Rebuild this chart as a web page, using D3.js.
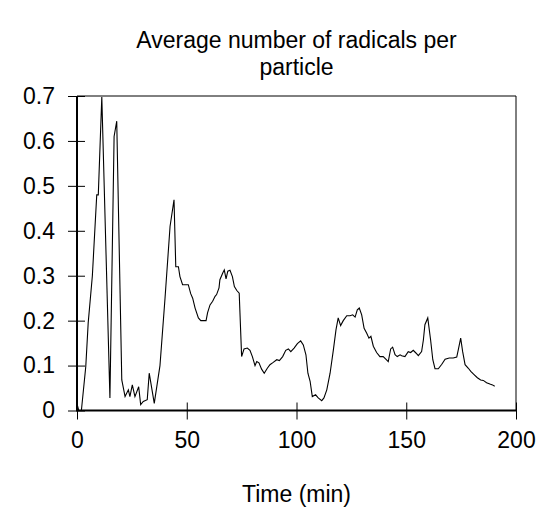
<!DOCTYPE html>
<html>
<head>
<meta charset="utf-8">
<script src="https://cdn.jsdelivr.net/npm/d3@7"></script>
<style>
  html, body { margin: 0; padding: 0; background: #fff; }
  svg { display: block; font-family: "Liberation Sans", Arial, sans-serif; }
</style>
</head>
<body>
<svg id="chart" width="547" height="512"></svg>
<script>
const titleLines = ["Average number of radicals per", "particle"];
const xLabel = "Time (min)";
const xTicks = [0, 50, 100, 150, 200];
const yTicks = [0, 0.1, 0.2, 0.3, 0.4, 0.5, 0.6, 0.7];
const timeMin = [0.1,0.8,2.0,4.0,5.1,7.0,9.0,9.7,11.3,15.0,16.9,18.1,20.4,21.9,23.4,24.1,25.2,26.4,28.1,29.0,30.2,32.0,32.9,35.2,37.8,40.1,42.4,44.2,45.0,46.2,46.9,48.1,50.7,51.8,52.7,53.8,55.3,56.4,58.8,59.5,60.6,61.8,62.9,63.6,64.7,65.1,66.4,67.1,67.9,68.7,69.7,70.8,71.7,72.8,73.9,75.0,76.1,77.6,78.8,79.9,81.1,81.9,82.9,84.1,85.3,86.7,87.9,89.4,91.0,92.2,93.7,95.1,96.3,97.4,98.9,100.4,101.9,103.1,104.3,105.2,106.2,107.2,108.7,109.9,111.5,112.5,113.8,115.3,116.8,118.0,119.0,120.1,121.3,122.9,124.4,125.6,126.7,127.7,128.6,129.7,130.8,132.0,133.0,133.9,135.0,136.5,138.0,139.5,140.8,141.8,142.9,143.8,144.9,145.9,147.2,147.9,149.4,150.9,152.0,153.2,154.4,155.5,157.0,157.8,158.5,159.8,161.1,162.1,163.1,164.6,166.2,167.7,169.6,171.4,173.0,173.7,174.8,175.7,176.8,178.3,179.4,180.9,182.4,183.9,185.1,186.6,188.1,189.3,190.3];
const radicals = [0.013,0.0,0.0,0.098,0.195,0.30,0.48,0.48,0.698,0.028,0.61,0.644,0.068,0.031,0.046,0.031,0.057,0.031,0.053,0.013,0.02,0.024,0.083,0.016,0.10,0.25,0.41,0.469,0.32,0.32,0.298,0.28,0.28,0.26,0.25,0.228,0.206,0.2,0.2,0.218,0.235,0.243,0.254,0.258,0.273,0.291,0.306,0.313,0.293,0.31,0.312,0.298,0.276,0.267,0.261,0.12,0.137,0.139,0.134,0.12,0.10,0.109,0.106,0.092,0.083,0.094,0.102,0.107,0.113,0.111,0.12,0.134,0.137,0.131,0.139,0.149,0.155,0.146,0.124,0.083,0.065,0.031,0.035,0.028,0.022,0.028,0.046,0.083,0.135,0.18,0.206,0.189,0.2,0.211,0.211,0.213,0.208,0.224,0.228,0.213,0.183,0.172,0.161,0.165,0.143,0.129,0.12,0.12,0.114,0.109,0.137,0.141,0.124,0.12,0.124,0.122,0.12,0.131,0.129,0.134,0.128,0.122,0.131,0.157,0.191,0.206,0.157,0.113,0.093,0.093,0.103,0.114,0.117,0.117,0.119,0.135,0.161,0.131,0.102,0.094,0.087,0.080,0.073,0.068,0.067,0.062,0.059,0.057,0.054];

const data = timeMin.map((t, i) => ({ t, v: radicals[i] }));

const mLeft = 77, mRight = 516, mTop = 96, mBottom = 410.5;
const FONT = 23;
const svg = d3.select("#chart");
const x = d3.scaleLinear().domain([0, 200]).range([mLeft, mRight]);
const y = d3.scaleLinear().domain([0, 0.7]).range([mBottom, mTop]);

// frame (top and right)
svg.append("line").attr("x1", mLeft).attr("x2", mRight).attr("y1", mTop).attr("y2", mTop)
  .attr("stroke", "#000").attr("stroke-width", 1);
svg.append("line").attr("x1", mRight).attr("x2", mRight).attr("y1", mTop).attr("y2", mBottom)
  .attr("stroke", "#000").attr("stroke-width", 1);

// x axis
const gx = svg.append("g").attr("transform", `translate(0,${mBottom})`)
  .call(d3.axisBottom(x).tickValues(xTicks).tickSize(9).tickPadding(12).tickFormat(d3.format("d")));
gx.select(".domain").attr("stroke-width", 2).attr("d", `M${mLeft},0H${mRight}`);
gx.selectAll(".tick line").attr("y1", -8).attr("stroke-width", 1);
gx.selectAll(".tick text").attr("font-size", FONT).attr("font-family", "Liberation Sans, Arial, sans-serif").attr("fill", "#000");

// y axis
const gy = svg.append("g").attr("transform", `translate(${mLeft},0)`)
  .call(d3.axisLeft(y).tickValues(yTicks).tickSize(9).tickPadding(13).tickFormat(d => d === 0 ? "0" : d3.format(".1f")(d)));
gy.select(".domain").attr("stroke-width", 2).attr("d", `M0,${mTop}V${mBottom + 1}`);
gy.selectAll(".tick line").attr("x1", 8).attr("stroke-width", 1);
gy.selectAll(".tick text").attr("font-size", FONT).attr("font-family", "Liberation Sans, Arial, sans-serif").attr("fill", "#000");

// line
svg.append("path").datum(data)
  .attr("fill", "none").attr("stroke", "#000").attr("stroke-width", 1.1)
  .attr("d", d3.line().x(d => x(d.t)).y(d => y(d.v)));

// title
const title = svg.append("text").attr("text-anchor", "middle").attr("font-size", FONT).attr("fill", "#000");
titleLines.forEach((s, i) => {
  title.append("tspan").attr("x", (mLeft + mRight) / 2).attr("y", 48 + i * 27).text(s);
});

// x label
svg.append("text").attr("x", (mLeft + mRight) / 2).attr("y", 502).attr("text-anchor", "middle")
  .attr("font-size", FONT).attr("fill", "#000").text(xLabel);
</script>
</body>
</html>
